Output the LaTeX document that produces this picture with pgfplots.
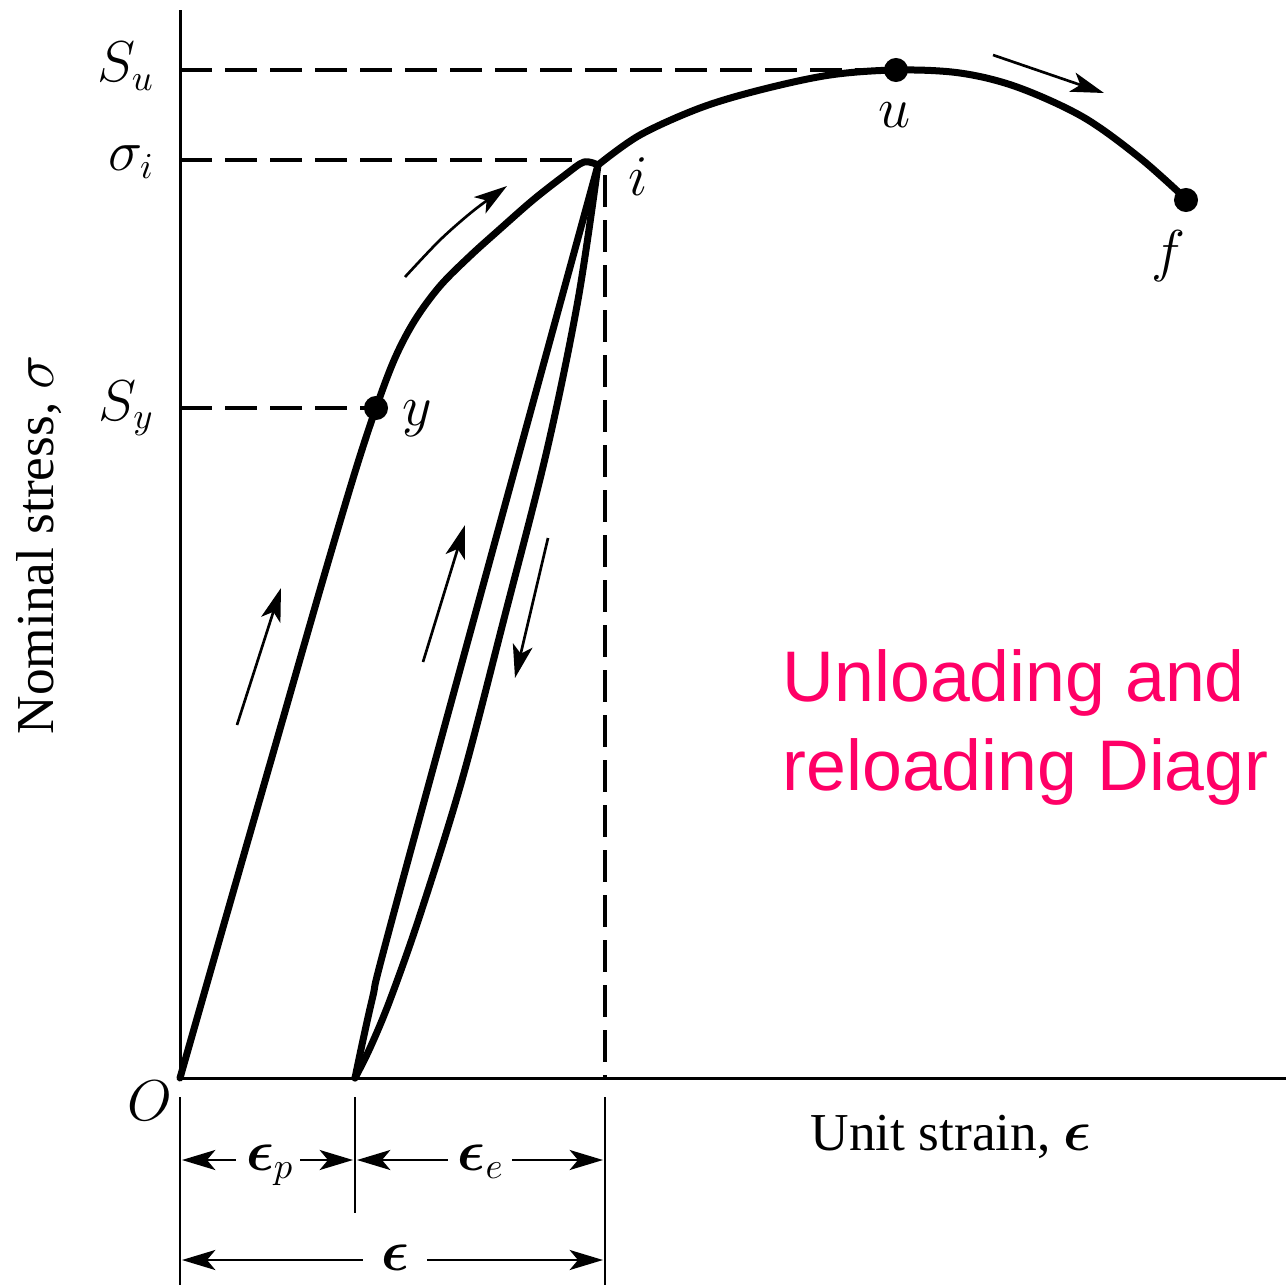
\documentclass[border=0pt]{standalone}
\usepackage{amsmath}
\usepackage{fontspec}
\setmainfont{Liberation Serif}
\newfontfamily\arialfont{Liberation Sans}
\usepackage{pgfplots}
\pgfplotsset{compat=1.18}
\usetikzlibrary{arrows.meta}
\definecolor{pinkred}{RGB}{255,0,102}
\tikzset{
  ahd/.tip={Stealth[length=10pt,width=6pt,inset=2.5pt]},
  curve/.style={line width=2.1pt, black, smooth, tension=0.55, line cap=round, line join=round},
  thinarr/.style={line width=0.8pt, black, -ahd},
  dim/.style={line width=0.8pt, black},
  guide/.style={line width=1pt, black, dash pattern=on 9.6pt off 3.9pt},
  lbl/.style={font=\fontsize{16}{19}\selectfont, inner sep=0pt},
  pinklbl/.style={anchor=base west, inner sep=0pt, text=pinkred, font=\arialfont\fontsize{21.5}{26}\selectfont}
}
\begin{document}
\begin{tikzpicture}
\begin{axis}[width=385.8pt,height=385.5pt,scale only axis,hide axis,
  xmin=0,xmax=1286,ymin=0,ymax=1285,y dir=reverse,enlargelimits=false,clip=false]
% axes
\addplot[line width=0.9pt,black] coordinates {(180,10) (180,1078)};
\addplot[line width=0.9pt,black] coordinates {(180,1078) (1286,1078)};
% dashed guide lines
\addplot[guide] coordinates {(180,70) (888,70)};
\addplot[guide] coordinates {(180,160) (585,160)};
\addplot[guide] coordinates {(180,408) (370,408)};
\addplot[guide] coordinates {(605,175) (605,1078)};
% loading curve O -> y -> i
\addplot[curve] coordinates {(180,1078) (228,910) (276,743) (322,583) (355,472) (376,408) (395,358) (415,320) (440,286) (470,256) (500,229) (533,200) (565,175) (584,162) (598,165)};
% i -> u -> f
\addplot[curve] coordinates {(598,165) (640,135) (700,108) (760,90) (830,75) (897,70) (960,73) (1017,87) (1083,117) (1140,158) (1187,200)};
% reloading (left) and unloading (right)
\addplot[curve] coordinates {(355,1078) (372,1000) (400,890) (598,165)};
\addplot[curve] coordinates {(355,1078) (370,1048) (390,1000) (420,915) (462,780) (505,615) (547,450) (578,300) (598,165)};
% points
\addplot[only marks, mark=*, mark size=3.4pt, black] coordinates {(376,408) (896,70) (1186,200)};
% direction arrows
\addplot[thinarr] coordinates {(237,725) (281,588)};
\addplot[thinarr, smooth] coordinates {(405,277) (440,240) (473,211) (507,186)};
\addplot[thinarr] coordinates {(423,662) (465,525)};
\addplot[thinarr] coordinates {(548,538) (515,678)};
\addplot[thinarr] coordinates {(993,55) (1104,93)};
% dimension lines below axis
\addplot[dim] coordinates {(180,1097) (180,1285)};
\addplot[dim] coordinates {(355,1097) (355,1213)};
\addplot[dim] coordinates {(605,1097) (605,1285)};
\addplot[dim, ahd-] coordinates {(182,1160) (236,1160)};
\addplot[dim, -ahd] coordinates {(300,1160) (353,1160)};
\addplot[dim, ahd-] coordinates {(357,1160) (448,1160)};
\addplot[dim, -ahd] coordinates {(512,1160) (603,1160)};
\addplot[dim, ahd-] coordinates {(182,1260) (363,1260)};
\addplot[dim, -ahd] coordinates {(427,1260) (603,1260)};
% labels
\node[lbl, anchor=base east] at (axis cs:155,82) {$S_u$};
\node[lbl, anchor=base east] at (axis cs:155,170) {$\sigma_i$};
\node[lbl, anchor=base east] at (axis cs:155,420) {$S_y$};
\node[lbl, anchor=base west] at (axis cs:402,425) {$y$};
\node[lbl, anchor=base west] at (axis cs:628,195) {$i$};
\node[lbl, anchor=base] at (axis cs:895,127) {$u$};
\node[lbl, anchor=base] at (axis cs:1168,270) {$f$};
\node[lbl, anchor=base] at (axis cs:150,1120) {$O$};
\node[lbl, anchor=base] at (axis cs:270,1170) {$\boldsymbol{\epsilon}_p$};
\node[lbl, anchor=base] at (axis cs:481,1170) {$\boldsymbol{\epsilon}_e$};
\node[lbl, anchor=base] at (axis cs:395,1270) {$\boldsymbol{\epsilon}$};
\node[lbl, anchor=base west] at (axis cs:810,1150) {Unit strain, $\boldsymbol{\epsilon}$};
\node[lbl, anchor=base west, rotate=90] at (axis cs:53,735) {Nominal stress, $\sigma$};
\node[pinklbl] at (axis cs:782,701) {Unloading and};
\node[pinklbl] at (axis cs:782,790) {reloading Diagr};
\end{axis}
\pgfresetboundingbox
\useasboundingbox (current axis.south west) rectangle (current axis.north east);
\end{tikzpicture}
\end{document}
